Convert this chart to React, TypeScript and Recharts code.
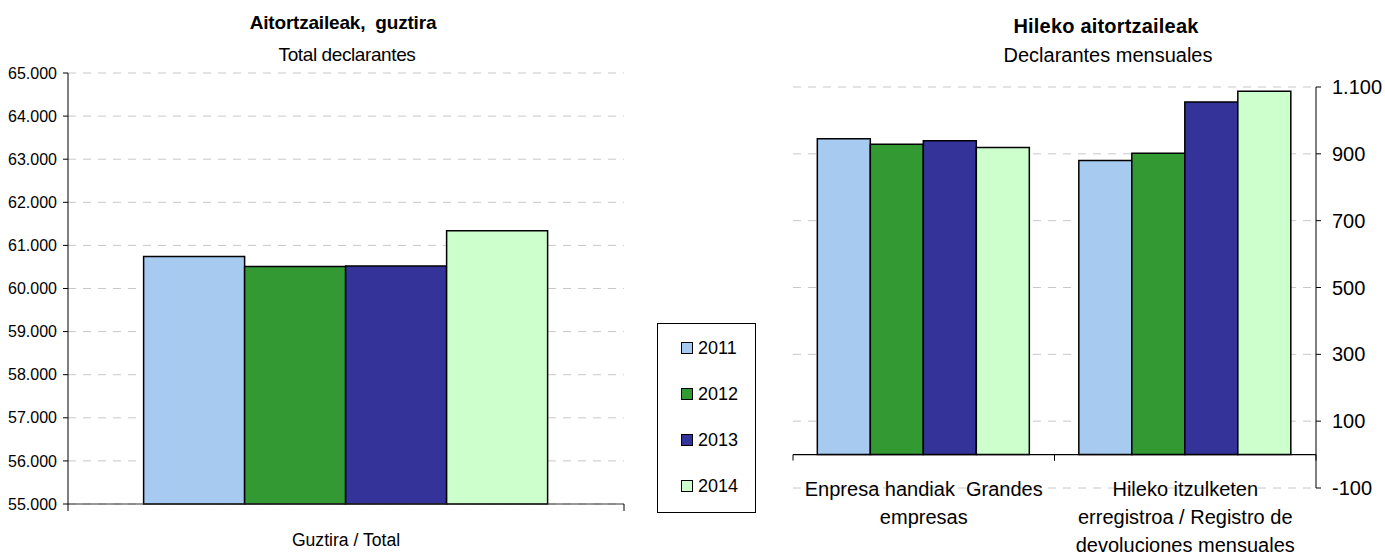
import React from 'react';
import { BarChart, Bar, XAxis, YAxis, CartesianGrid, Legend, ReferenceLine } from 'recharts';

const FONT = '"Liberation Sans", Arial, sans-serif';

// series
const years = ['2011', '2012', '2013', '2014'];
const yearColors = ['#A6CAF0', '#339933', '#333399', '#CCFFCC'];

// left chart: all declarants
const totalCategories = ['Guztira / Total'];
const totalValues = [[60740], [60510], [60520], [61340]]; // per year, per category
const totalTicks = [55000, 56000, 57000, 58000, 59000, 60000, 61000, 62000, 63000, 64000, 65000];

// right chart: monthly declarants
const monthlyCategories = [
  'Enpresa handiak  Grandes\nempresas',
  'Hileko itzulketen\nerregistroa / Registro de\ndevoluciones mensuales',
];
const monthlyValues = [[945, 880], [929, 902], [939, 1055], [919, 1087]];
const monthlyTicks = [-100, 100, 300, 500, 700, 900, 1100];

const buildRows = (cats: string[], vals: number[][]) =>
  cats.map((label, i) => {
    const row: any = { label };
    years.forEach((y, j) => {
      row['y' + y] = vals[j][i];
    });
    return row;
  });

const totalRows = buildRows(totalCategories, totalValues);
const monthlyRows = buildRows(monthlyCategories, monthlyValues);

const fmt = (v: number) => {
  const s = Math.abs(v).toString().replace(/\B(?=(\d{3})+(?!\d))/g, '.');
  return v < 0 ? '-' + s : s;
};

const RIGHT_PLOT_H = 401;

function TotalTick(props: any) {
  const { x, y, payload } = props;
  const half = payload.offset ?? 278;
  return (
    <g>
      <line x1={x - half} x2={x - half} y1={y} y2={y + 7} stroke="#000" />
      <line x1={x + half} x2={x + half} y1={y} y2={y + 7} stroke="#000" />
      <text x={x} y={y + 42} textAnchor="middle" fontSize={17.6} fill="#000" fontFamily={FONT}>
        {payload.value}
      </text>
    </g>
  );
}

function MonthlyTick(props: any) {
  const { x, y, payload } = props;
  const half = payload.offset ?? 131;
  const zeroY = y - (RIGHT_PLOT_H * 100) / 1200;
  const lines = String(payload.value).split('\n');
  return (
    <g>
      <line x1={x - half} x2={x - half} y1={zeroY} y2={zeroY + 6} stroke="#000" />
      <line x1={x + half} x2={x + half} y1={zeroY} y2={zeroY + 6} stroke="#000" />
      {lines.map((l, i) => (
        <text
          key={i}
          x={x}
          y={y + 8 + i * 28}
          textAnchor="middle"
          fontSize={20}
          fill="#000"
          fontFamily={FONT}
          style={{ whiteSpace: 'pre' }}
        >
          {l}
        </text>
      ))}
    </g>
  );
}

function YearLegend(props: any) {
  const { payload } = props;
  return (
    <div
      style={{
        width: 97,
        height: 187,
        border: '1px solid #000',
        background: '#fff',
        fontFamily: FONT,
        fontSize: 18,
        paddingTop: 1,
        boxSizing: 'content-box',
      }}
    >
      {(payload || []).map((p: any) => (
        <div key={p.value} style={{ height: 46, display: 'flex', alignItems: 'center', paddingLeft: 23 }}>
          <span
            style={{
              display: 'inline-block',
              width: 10,
              height: 10,
              background: p.color,
              border: '1px solid #000',
              marginRight: 5,
            }}
          />
          <span style={{ color: '#000' }}>{p.value}</span>
        </div>
      ))}
    </div>
  );
}

const titleStyle: React.CSSProperties = {
  position: 'absolute',
  textAlign: 'center',
  fontFamily: FONT,
  color: '#000',
  whiteSpace: 'nowrap',
};

export default function App() {
  return (
    <div style={{ position: 'absolute', left: 0, top: 0, width: 1385, height: 558, background: '#fff', overflow: 'hidden' }}>
      <div style={{ ...titleStyle, left: 143, width: 400, top: 12, fontSize: 19, fontWeight: 'bold', letterSpacing: -0.2 }}>
        Aitortzaileak,&nbsp; guztira
      </div>
      <div style={{ ...titleStyle, left: 147, width: 400, top: 44, fontSize: 19, letterSpacing: -0.4 }}>
        Total declarantes
      </div>
      <div style={{ ...titleStyle, left: 906, width: 400, top: 15, fontSize: 20, fontWeight: 'bold', letterSpacing: 0.2 }}>
        Hileko aitortzaileak
      </div>
      <div style={{ ...titleStyle, left: 908, width: 400, top: 44, fontSize: 20 }}>
        Declarantes mensuales
      </div>

      <div style={{ position: 'absolute', left: 0, top: 0 }}>
        <BarChart
          width={770}
          height={558}
          data={totalRows}
          margin={{ top: 73, right: 146, bottom: 0, left: 0 }}
          barCategoryGap="13.6%"
          barGap={0}
        >
          <CartesianGrid horizontal vertical={false} stroke="#c8c8c8" strokeDasharray="8 7" />
          <XAxis
            dataKey="label"
            height={54}
            axisLine={{ stroke: '#333' }}
            tickLine={false}
            tickSize={0}
            tickMargin={0}
            tick={<TotalTick />}
          />
          <YAxis
            width={68}
            domain={[55000, 65000]}
            ticks={totalTicks}
            interval={0}
            tickFormatter={fmt}
            axisLine={{ stroke: '#000' }}
            tickLine={{ stroke: '#000' }}
            tickSize={5}
            tickMargin={6}
            tick={{ fill: '#000', fontSize: 16, fontFamily: FONT }}
          />
          {years.map((y, i) => (
            <Bar
              key={y}
              dataKey={'y' + y}
              name={y}
              fill={yearColors[i]}
              stroke="#000"
              strokeWidth={1.5}
              isAnimationActive={false}
            />
          ))}
          <Legend
            layout="vertical"
            align="center"
            verticalAlign="middle"
            content={<YearLegend />}
            wrapperStyle={{ left: 657, top: 323, width: 99, height: 189 }}
          />
        </BarChart>
      </div>

      <div style={{ position: 'absolute', left: 770, top: 0 }}>
        <BarChart
          width={615}
          height={558}
          data={monthlyRows}
          margin={{ top: 87, right: 0, bottom: 0, left: 23 }}
          barCategoryGap="9.3%"
          barGap={0}
        >
          <CartesianGrid horizontal vertical={false} stroke="#c8c8c8" strokeDasharray="8 7" />
          <XAxis
            dataKey="label"
            height={70}
            axisLine={false}
            tickLine={false}
            tickSize={0}
            tickMargin={0}
            interval={0}
            tick={<MonthlyTick />}
          />
          <YAxis
            orientation="right"
            width={69}
            domain={[-100, 1100]}
            ticks={monthlyTicks}
            interval={0}
            tickFormatter={fmt}
            axisLine={{ stroke: '#000' }}
            tickLine={{ stroke: '#000' }}
            tickSize={5}
            tickMargin={11}
            tick={{ fill: '#000', fontSize: 20, fontFamily: FONT }}
          />
          {years.map((y, i) => (
            <Bar
              key={y}
              dataKey={'y' + y}
              name={y}
              fill={yearColors[i]}
              stroke="#000"
              strokeWidth={1.5}
              isAnimationActive={false}
            />
          ))}
          <ReferenceLine y={0} stroke="#000" strokeWidth={1.2} ifOverflow="extendDomain" />
        </BarChart>
      </div>
    </div>
  );
}
